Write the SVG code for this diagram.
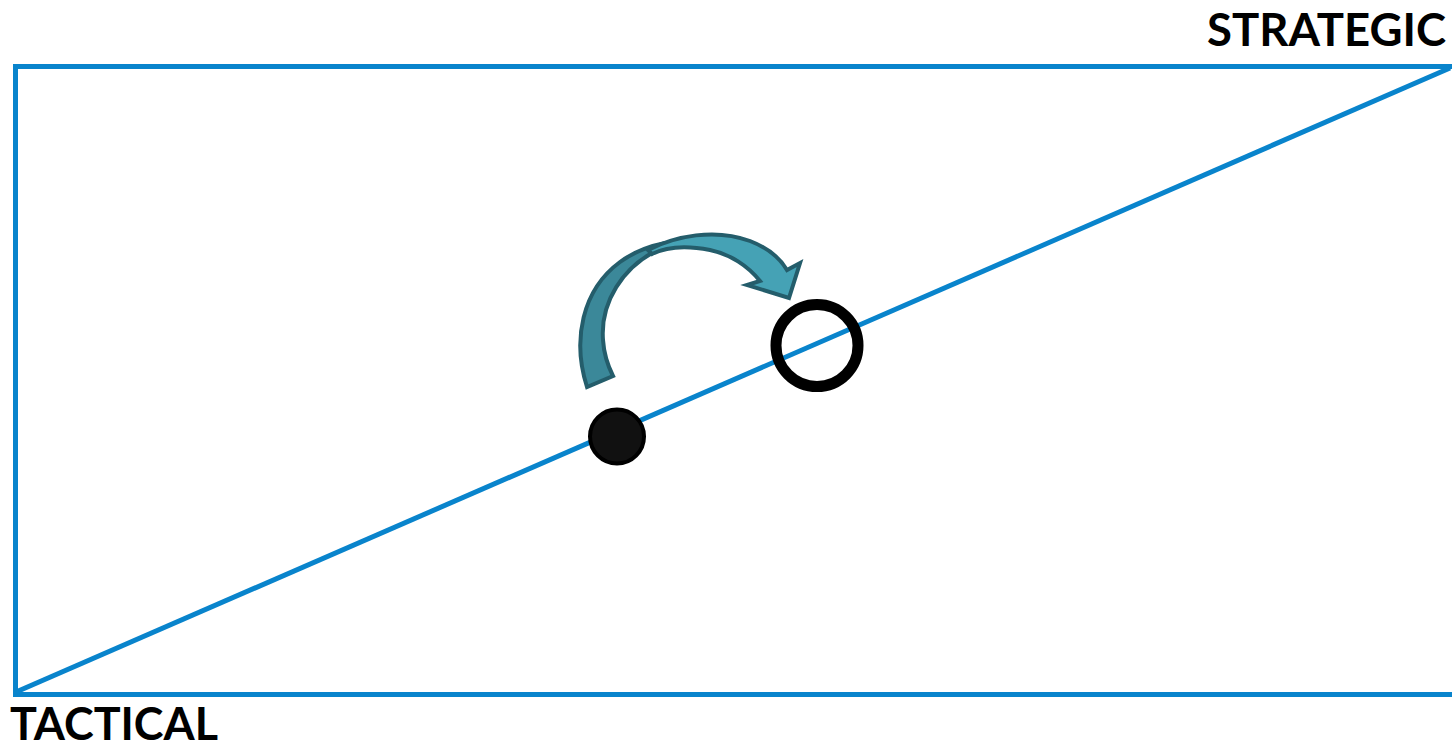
<svg xmlns="http://www.w3.org/2000/svg" width="1452" height="749" viewBox="0 0 1452 749">
<style>
.ln{stroke:#0984cc;stroke-width:5;fill:none}
.lbl{font-family:Lato,"Liberation Sans",sans-serif;font-weight:700;font-size:46px;fill:#000}
.arr{stroke:#245d6b;stroke-width:4;stroke-linejoin:miter}
</style>
<rect width="1452" height="749" fill="#fff"/>
<g id="connectors">
<polyline class="ln" points="1452,66.5 15.5,66.5 15.5,694.5 1452,694.5"/>
<line class="ln" x1="16" y1="692" x2="1450" y2="68"/>
</g>
<g id="arrow">
<path class="arr" fill="#3b8899" d="M587,387 C572,340 582,290 620,262 C635,251 650,246 665,243 L652,253 C625,268 600,300 603,340 C604,356 608,366 613,376 Z"/>
<path class="arr" fill="#45a2b5" d="M648,250 C675,236 715,228 750,241 C768,248 780,258 787,270 L800,263 L789,298 L747,285 L760,281 C748,266 730,254 710,250 C690,246 668,246 652,254 Z"/>
</g>
<g id="start-dot"><circle cx="617" cy="436.5" r="27" fill="#111" stroke="#000" stroke-width="4"/></g>
<g id="target-ring"><circle cx="817" cy="345.5" r="41" fill="none" stroke="#000" stroke-width="11"/></g>
<g id="label-strategic"><text class="lbl" x="1207" y="46" textLength="239" lengthAdjust="spacingAndGlyphs">STRATEGIC</text></g>
<g id="label-tactical"><text class="lbl" x="10" y="740" textLength="208" lengthAdjust="spacingAndGlyphs">TACTICAL</text></g>
</svg>
